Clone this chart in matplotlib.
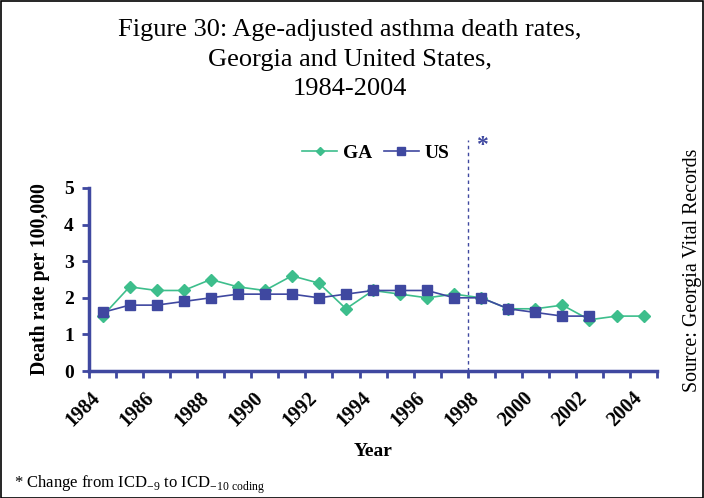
import matplotlib
matplotlib.use("Agg")
import matplotlib.pyplot as plt
from matplotlib.patches import Rectangle

years = list(range(1984, 2005))
ga = [1.5, 2.3, 2.2, 2.2, 2.5, 2.3, 2.2, 2.6, 2.4, 1.7, 2.2, 2.1, 2.0, 2.1, 2.0, 1.7, 1.7, 1.8, 1.4, 1.5, 1.5]
us = [1.6, 1.8, 1.8, 1.9, 2.0, 2.1, 2.1, 2.1, 2.0, 2.1, 2.2, 2.2, 2.2, 2.0, 2.0, 1.7, 1.6, 1.5, 1.5]
tick_years = [1984, 1986, 1988, 1990, 1992, 1994, 1996, 1998, 2000, 2002, 2004]
change_year = 1998

plt.rcParams['font.family'] = ['Liberation Serif', 'DejaVu Serif']
plt.rcParams['mathtext.fontset'] = 'custom'
plt.rcParams['mathtext.rm'] = 'Liberation Serif'

ga_col = '#3DBE8C'
us_col = '#3F48A0'
axis_col = '#3F48A0'

fig = plt.figure(figsize=(7.04, 4.98), dpi=100)
fig.patches.append(Rectangle((0.001, 0.001), 0.997, 0.997, transform=fig.transFigure,
                             fill=False, edgecolor='black', linewidth=1.2))
ax = fig.add_axes([0.1264, 0.255, 0.807, 0.3675])

xi = list(range(len(years)))
ax.plot(xi, ga, color=ga_col, marker='D', markersize=6, linewidth=1.2, label='GA')
ax.plot(xi[:len(us)], us, color=us_col, marker='s', markersize=7.5, linewidth=1.2, label='US')

ci = years.index(change_year) - 0.5
ax.plot([ci, ci], [0, 6.32], linestyle=(0, (2.5, 2.5)), color=us_col, linewidth=1, clip_on=False)
ax.text(ci + 0.3, 6.15, '*', color=us_col, fontsize=17, fontweight='bold', ha='left', va='center')

ax.set_xlim(-0.5, len(years) - 0.5)
ax.set_ylim(0, 5)
ax.set_yticks([0, 1, 2, 3, 4, 5])
ax.xaxis.remove_overlapping_locs = False
ax.set_xticks([i - 0.5 for i in range(len(years) + 1)])
ax.set_xticklabels([])
# labels anchored slightly left of the category centre, as in the original
ax.set_xticks([years.index(y) - 0.45 for y in tick_years], minor=True)
ax.set_xticklabels([str(y) for y in tick_years], minor=True, rotation=45, ha='right',
                   rotation_mode='anchor', fontsize=14.5, fontweight='bold')
ax.tick_params(axis='x', which='minor', length=0, pad=12)
ax.tick_params(axis='x', which='major', length=5, width=2, color=axis_col, direction='out')
ax.tick_params(axis='y', length=5, width=2, color=axis_col, direction='out', labelsize=14, pad=6)
for lab in ax.get_yticklabels():
    lab.set_fontweight('bold')

for s in ['top', 'right']:
    ax.spines[s].set_visible(False)
for s in ['left', 'bottom']:
    ax.spines[s].set_color(axis_col)
    ax.spines[s].set_linewidth(2.5)

ax.set_ylabel('Death rate per 100,000', fontsize=14.2, fontweight='bold', labelpad=10)
fig.text(0.530, 0.093, 'Year', fontsize=14, fontweight='bold', ha='center', va='center')

ax.legend(loc='center', bbox_to_anchor=(0.505, 1.19), ncol=2, frameon=False,
          prop={'weight': 'bold', 'size': 14}, handlelength=1.8, handletextpad=0.3,
          columnspacing=0.6, markerscale=0.7)

fig.text(0.497, 0.962, 'Figure 30: Age-adjusted asthma death rates,\nGeorgia and United States,\n1984-2004',
         fontsize=19, ha='center', va='top', linespacing=1.45)

fig.text(0.984, 0.458, 'Source: Georgia Vital Records', fontsize=14.3, rotation=90,
         ha='center', va='center')

fig.text(0.02, 0.027, r'* Change from ICD$_{\mathrm{-9}}$ to ICD$_{\mathrm{-10\ coding}}$',
         fontsize=12, ha='left', va='center')

fig.savefig('out.png', dpi=100)
